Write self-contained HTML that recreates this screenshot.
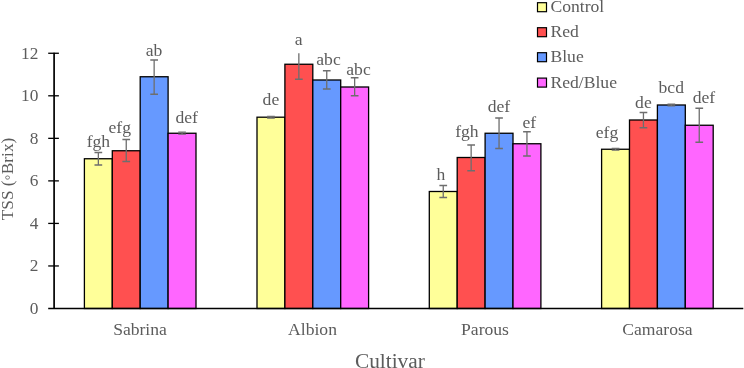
<!DOCTYPE html>
<html><head><meta charset="utf-8"><title>TSS chart</title>
<style>
html,body{margin:0;padding:0;background:#fff;}
body{width:744px;height:368px;overflow:hidden;}
svg{display:block;}
text{font-family:"Liberation Serif","Times New Roman",serif;fill:#5c5c5c;}
.t{font-size:17.6px;}
.bar{stroke:#000;stroke-width:1.3;}
.eb{stroke:#6e6e6e;stroke-width:1.3;fill:none;}
.ax{stroke:#000;stroke-width:1.3;fill:none;}
</style></head><body>
<svg width="744" height="368" viewBox="0 0 744 368">
<rect width="744" height="368" fill="#fff"/>
<rect class="bar" x="84.40" y="158.75" width="27.90" height="149.75" fill="#FFFF99"/>
<rect class="bar" x="112.30" y="150.75" width="27.90" height="157.75" fill="#FF5050"/>
<rect class="bar" x="140.20" y="76.75" width="27.90" height="231.75" fill="#6699FF"/>
<rect class="bar" x="168.10" y="133.25" width="27.90" height="175.25" fill="#FF66FF"/>
<rect class="bar" x="257.00" y="117.20" width="27.90" height="191.30" fill="#FFFF99"/>
<rect class="bar" x="284.90" y="64.25" width="27.90" height="244.25" fill="#FF5050"/>
<rect class="bar" x="312.80" y="80.00" width="27.90" height="228.50" fill="#6699FF"/>
<rect class="bar" x="340.70" y="87.00" width="27.90" height="221.50" fill="#FF66FF"/>
<rect class="bar" x="429.30" y="191.50" width="27.90" height="117.00" fill="#FFFF99"/>
<rect class="bar" x="457.20" y="157.50" width="27.90" height="151.00" fill="#FF5050"/>
<rect class="bar" x="485.10" y="133.25" width="27.90" height="175.25" fill="#6699FF"/>
<rect class="bar" x="513.00" y="143.75" width="27.90" height="164.75" fill="#FF66FF"/>
<rect class="bar" x="601.60" y="149.25" width="27.90" height="159.25" fill="#FFFF99"/>
<rect class="bar" x="629.50" y="120.00" width="27.90" height="188.50" fill="#FF5050"/>
<rect class="bar" x="657.40" y="105.00" width="27.90" height="203.50" fill="#6699FF"/>
<rect class="bar" x="685.30" y="125.25" width="27.90" height="183.25" fill="#FF66FF"/>
<path class="eb" d="M98.35 152.50V165.00M94.50 165.00H102.20M94.50 152.50H102.20"/>
<text class="t" x="98.40" y="147.00" text-anchor="middle">fgh</text>
<path class="eb" d="M126.25 139.50V161.50M122.40 161.50H130.10M122.40 139.50H130.10"/>
<text class="t" x="119.75" y="133.00" text-anchor="middle">efg</text>
<path class="eb" d="M154.15 60.00V94.25M150.30 94.25H158.00M150.30 60.00H158.00"/>
<text class="t" x="154.00" y="56.25" text-anchor="middle">ab</text>
<path class="eb" d="M182.05 132.20V134.20M178.20 134.20H185.90M178.20 132.20H185.90"/>
<text class="t" x="186.75" y="123.25" text-anchor="middle">def</text>
<path class="eb" d="M270.95 116.40V118.00M267.10 118.00H274.80M267.10 116.40H274.80"/>
<text class="t" x="270.90" y="105.00" text-anchor="middle">de</text>
<path class="eb" d="M298.85 53.25V79.25M295.00 79.25H302.70"/>
<text class="t" x="298.60" y="45.00" text-anchor="middle">a</text>
<path class="eb" d="M326.75 70.75V89.00M322.90 89.00H330.60M322.90 70.75H330.60"/>
<text class="t" x="328.50" y="64.50" text-anchor="middle">abc</text>
<path class="eb" d="M354.65 77.75V95.75M350.80 95.75H358.50M350.80 77.75H358.50"/>
<text class="t" x="358.50" y="75.00" text-anchor="middle">abc</text>
<path class="eb" d="M443.25 185.50V197.50M439.40 197.50H447.10M439.40 185.50H447.10"/>
<text class="t" x="441.00" y="180.00" text-anchor="middle">h</text>
<path class="eb" d="M471.15 145.00V170.75M467.30 170.75H475.00M467.30 145.00H475.00"/>
<text class="t" x="466.90" y="136.75" text-anchor="middle">fgh</text>
<path class="eb" d="M499.05 118.00V148.50M495.20 148.50H502.90M495.20 118.00H502.90"/>
<text class="t" x="499.00" y="112.00" text-anchor="middle">def</text>
<path class="eb" d="M526.95 131.75V156.00M523.10 156.00H530.80M523.10 131.75H530.80"/>
<text class="t" x="529.40" y="127.50" text-anchor="middle">ef</text>
<path class="eb" d="M615.55 148.30V150.20M611.70 150.20H619.40M611.70 148.30H619.40"/>
<text class="t" x="607.00" y="138.25" text-anchor="middle">efg</text>
<path class="eb" d="M643.45 112.50V127.75M639.60 127.75H647.30M639.60 112.50H647.30"/>
<text class="t" x="643.40" y="107.50" text-anchor="middle">de</text>
<path class="eb" d="M671.35 104.20V105.80M667.50 105.80H675.20M667.50 104.20H675.20"/>
<text class="t" x="671.25" y="93.00" text-anchor="middle">bcd</text>
<path class="eb" d="M699.25 108.25V142.25M695.40 142.25H703.10M695.40 108.25H703.10"/>
<text class="t" x="704.00" y="103.25" text-anchor="middle">def</text>
<path class="ax" style="stroke-width:1.7" d="M54.1 52.7V308.5"/>
<path class="ax" d="M48.2 308.5H743.3"/>
<text class="t" style="font-size:17.33px" x="38.4" y="314.00" text-anchor="end">0</text>
<path class="ax" d="M48.2 265.96H58.9"/>
<text class="t" style="font-size:17.33px" x="38.4" y="271.46" text-anchor="end">2</text>
<path class="ax" d="M48.2 223.42H58.9"/>
<text class="t" style="font-size:17.33px" x="38.4" y="228.92" text-anchor="end">4</text>
<path class="ax" d="M48.2 180.88H58.9"/>
<text class="t" style="font-size:17.33px" x="38.4" y="186.38" text-anchor="end">6</text>
<path class="ax" d="M48.2 138.34H58.9"/>
<text class="t" style="font-size:17.33px" x="38.4" y="143.84" text-anchor="end">8</text>
<path class="ax" d="M48.2 95.80H58.9"/>
<text class="t" style="font-size:17.33px" x="38.4" y="101.30" text-anchor="end">10</text>
<path class="ax" d="M48.2 53.26H58.9"/>
<text class="t" style="font-size:17.33px" x="38.4" y="58.76" text-anchor="end">12</text>
<text class="t" x="140" y="334.75" text-anchor="middle">Sabrina</text>
<text class="t" x="312.5" y="334.75" text-anchor="middle">Albion</text>
<text class="t" x="485" y="334.75" text-anchor="middle">Parous</text>
<text class="t" x="657.5" y="334.75" text-anchor="middle">Camarosa</text>
<text x="389.9" y="368" text-anchor="middle" style="font-size:21.33px">Cultivar</text>
<text transform="translate(12.8 179) rotate(-90)" text-anchor="middle" style="font-size:17.33px">TSS (◦Brix)</text>
<rect x="537.5" y="2.70" width="9" height="9" fill="#FFFF99" stroke="#000" stroke-width="1.2"/>
<text class="t" x="550.5" y="12.3">Control</text>
<rect x="537.5" y="27.70" width="9" height="9" fill="#FF5050" stroke="#000" stroke-width="1.2"/>
<text class="t" x="550.5" y="37.3">Red</text>
<rect x="537.5" y="52.70" width="9" height="9" fill="#6699FF" stroke="#000" stroke-width="1.2"/>
<text class="t" x="550.5" y="62.3">Blue</text>
<rect x="537.5" y="78.10" width="9" height="9" fill="#FF66FF" stroke="#000" stroke-width="1.2"/>
<text class="t" x="550.5" y="87.7">Red/Blue</text>
</svg></body></html>
